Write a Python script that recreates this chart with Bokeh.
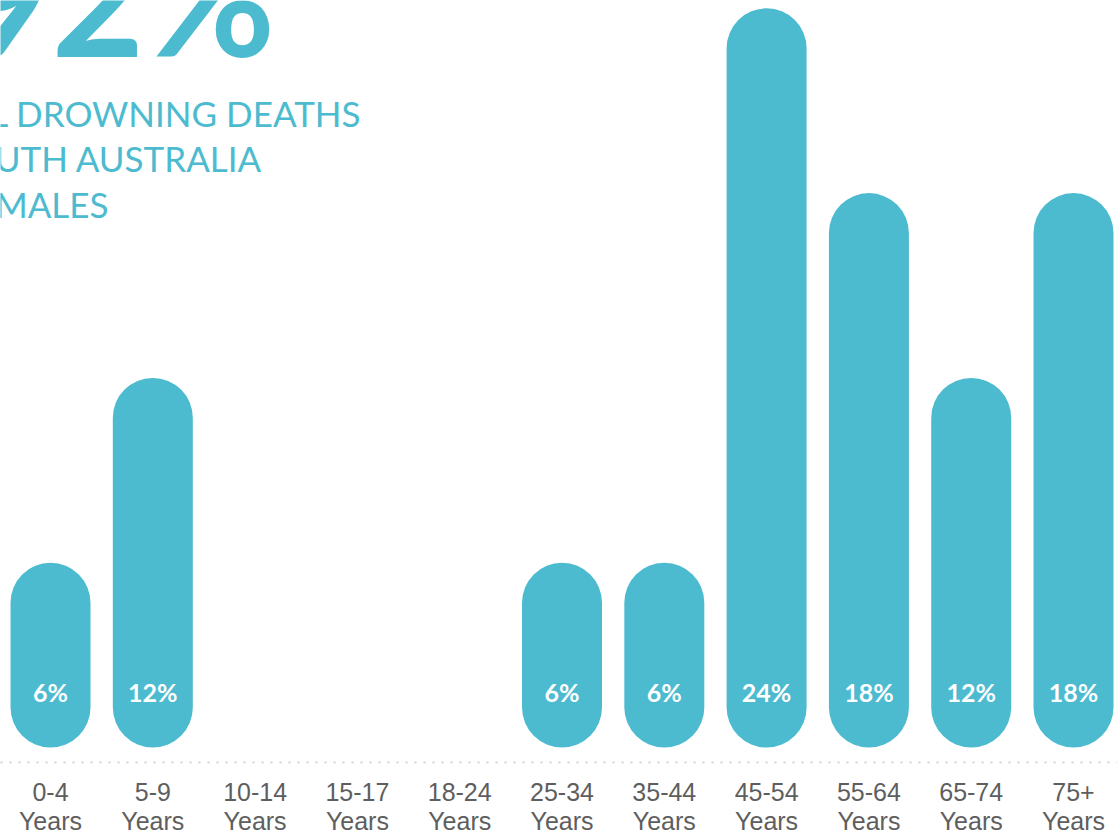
from bokeh.plotting import figure
from bokeh.models import Range1d, FixedTicker, ColumnDataSource
from bokeh.core.properties import value
from bokeh.embed import file_html
from bokeh.resources import INLINE

# ---- data ----
categories = ["0-4", "5-9", "10-14", "15-17", "18-24", "25-34", "35-44",
              "45-54", "55-64", "65-74", "75+"]
tick_labels = [c + "\nYears" for c in categories]
values = [6, 12, 0, 0, 0, 6, 6, 24, 18, 12, 18]
headline = "92%"
title_lines = ["OF ALL DROWNING DEATHS", "IN SOUTH AUSTRALIA", "WERE MALES"]

TEAL = "#4dbbcf"

idx = list(range(len(categories)))
bars = ColumnDataSource(dict(
    x=[i for i, v in zip(idx, values) if v > 0],
    top=[v for v in values if v > 0],
    label=[f"{v}%" for v in values if v > 0],
))

p = figure(width=1117, height=838, output_backend="svg", toolbar_location=None,
           x_range=Range1d(-0.4888, 10.430), y_range=Range1d(-0.487, 24.253),
           min_border_left=0, min_border_right=0, min_border_top=0,
           min_border_bottom=76)
p.outline_line_color = None
p.grid.visible = False
p.yaxis.visible = False
p.background_fill_color = "white"
p.border_fill_color = "white"

# pills
p.vbar(x="x", top="top", bottom=0, width=0.782, source=bars,
       fill_color=TEAL, line_color=None, border_radius=40)

# value labels inside bars
p.text(x="x", y=1.786, text="label", source=bars,
       text_color="white", text_font=value("Lato"), text_font_style="bold",
       text_font_size="25px", text_align="center", text_baseline="middle")

# headline and title (partially cropped at left like the reference)
p.text(x=[2.199], y=[21.33], text=[headline], text_color=TEAL,
       text_font=value("Lato"), text_font_style="bold", text_font_size="160px",
       text_align="right", text_baseline="bottom")
p.text(x=[3.06, 2.072, 0.567], y=[20.61, 19.15, 17.63], text=title_lines,
       text_color=TEAL, text_font=value("Lato"), text_font_size="35px",
       text_align="right", text_baseline="middle")

# axis: dotted baseline + two-line category labels
ax = p.xaxis[0]
ax.ticker = FixedTicker(ticks=idx)
ax.major_label_overrides = {i: t for i, t in zip(idx, tick_labels)}
ax.axis_line_color = "#c8c8c8"
ax.axis_line_dash = "2 7"
ax.axis_line_width = 1.5
ax.major_tick_line_color = None
ax.minor_tick_line_color = None
ax.major_tick_out = 0
ax.major_tick_in = 0
ax.major_label_standoff = 15
ax.major_label_text_font = "Liberation Sans"
ax.major_label_text_font_size = "25px"
ax.major_label_text_color = "#5e5e5e"
ax.major_label_text_line_height = 1.05

open("out.html", "w").write(file_html(p, INLINE))
